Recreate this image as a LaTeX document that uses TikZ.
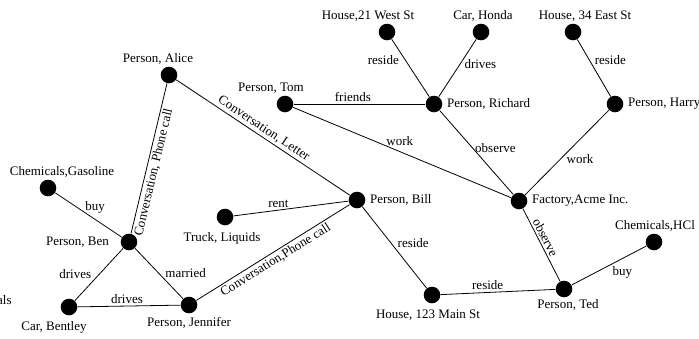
\documentclass[tikz,border=0pt]{standalone}
\usepackage{fontspec}
\setmainfont{Liberation Serif}
\usetikzlibrary{positioning}
\tikzset{
  vblack/.style={circle, fill=black, inner sep=0pt, minimum width=16.6pt},
  elabel/.style={inner sep=2pt},
  every label/.style={inner sep=1pt}
}
\newcommand{\vdist}{3pt}

\begin{document}
\begin{tikzpicture}[x=1pt, y=-1pt, font=\fontsize{13}{15}\selectfont, line width=0.8pt]
\useasboundingbox (0,0) rectangle (699,338);

% vertices
\node[vblack, label={[xshift=-11pt]above:Person, Alice}] (alice) at (169,75) {};
\node[vblack, label={[xshift=-14pt]above:Person, Tom}] (tom) at (285,104) {};
\node[vblack, label={[label distance=\vdist]right:Person, Richard}] (richard) at (434,104) {};
\node[vblack, label={[xshift=-19pt]above:House,21 West St}] (housewest) at (387,32) {};
\node[vblack, label={[xshift=2pt]above:Car, Honda}] (honda) at (481,32) {};
\node[vblack, label={[xshift=12pt]above:House, 34 East St}] (houseeast) at (573,32) {};
\node[vblack, label={[label distance=\vdist]right:Person, Harry}] (harry) at (615,104) {};
\node[vblack, label={[xshift=14pt]above:Chemicals,Gasoline}] (gasoline) at (48,188) {};
\node[vblack, label={[label distance=10pt]left:Person, Ben}] (ben) at (129,242) {};
\node[vblack, label={[xshift=-3pt, yshift=-5pt]below:Truck, Liquids}] (truck) at (225,217) {};
\node[vblack, label={[label distance=\vdist]right:Person, Bill}] (bill) at (357,200) {};
\node[vblack, label={[label distance=\vdist]right:Factory,Acme Inc.}] (factory) at (519,201) {};
\node[vblack, label={[xshift=1pt]above:Chemicals,HCl}] (hcl) at (654,242) {};
\node[vblack, label={[xshift=-15pt, yshift=-4pt]below:Car, Bentley}] (bentley) at (69,307) {};
\node[vblack, label={[yshift=-2pt]below:Person, Jennifer}] (jennifer) at (189,305) {};
\node[vblack, label={[xshift=-4pt, yshift=-5pt]below:House, 123 Main St}] (housemain) at (432,295) {};
\node[vblack, label={[xshift=4pt]below:Person, Ted}] (ted) at (564,289) {};

% cut off at the border
\node[anchor=east, inner sep=0pt] (cutoff) at (12,300) {als};

% edges
\begin{scope}[every node/.style={elabel}]
\draw (alice) -- node[pos=0.58, sloped, below] {Conversation, Phone call} (ben);
\draw (alice) -- node[pos=0.48, sloped, above] {Conversation, Letter} (bill);
\draw (tom) -- node[pos=0.45, above] {friends} (richard);
\draw (tom) -- node[pos=0.49, above=4pt] {work} (factory);
\draw (housewest) -- node[pos=0.36, left=4pt] {reside} (richard);
\draw (honda) -- node[pos=0.43, right=2pt] {drives} (richard);
\draw (richard) -- node[pos=0.45, right] {observe} (factory);
\draw (houseeast) -- node[pos=0.36, right=3pt] {reside} (harry);
\draw (harry) -- node[pos=0.58, right=4pt] {work} (factory);
\draw (gasoline) -- node[pos=0.6, above=4pt] {buy} (ben);
\draw (ben) -- node[pos=0.49, left=6pt] {drives} (bentley);
\draw (ben) -- node[pos=0.5, right=4pt] {married} (jennifer);
\draw (bentley) -- node[pos=0.48, above] {drives} (jennifer);
\draw (jennifer) -- node[pos=0.49, sloped, below] {Conversation,Phone call} (bill);
\draw (truck) -- node[pos=0.39, above] {rent} (bill);
\draw (bill) -- node[pos=0.45, right=4pt] {reside} (housemain);
\draw (housemain) -- node[pos=0.41, above] {reside} (ted);
\draw (factory) -- node[pos=0.44, sloped, above] {observe} (ted);
\draw (ted) -- node[pos=0.68, below=6pt] {buy} (hcl);
\end{scope}
\end{tikzpicture}
\end{document}
